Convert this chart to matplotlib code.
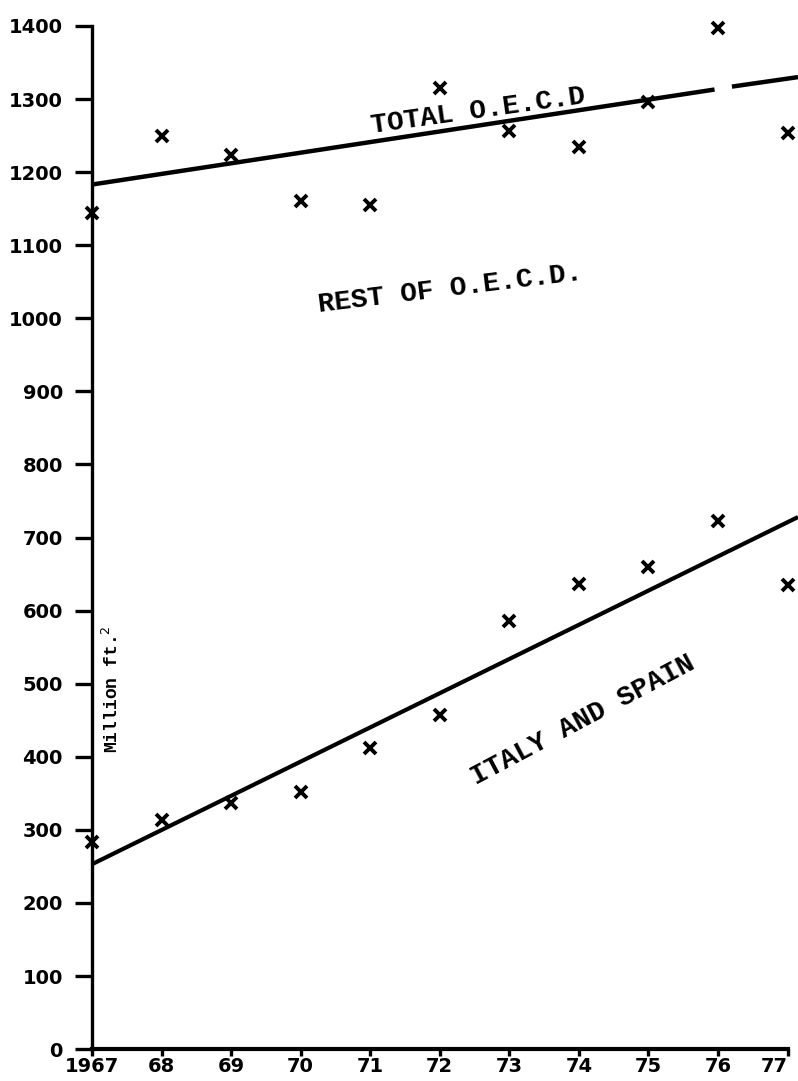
import matplotlib.pyplot as plt
import numpy as np

years = [1967, 1968, 1969, 1970, 1971, 1972, 1973, 1974, 1975, 1976, 1977]
total_oecd = [1144, 1249, 1223, 1160, 1155, 1315, 1256, 1235, 1296, 1397, 1254]
italy_spain = [284, 314, 337, 352, 412, 457, 586, 637, 660, 723, 635]

# fitted trend lines as drawn (total line has a small break near 1976)
total_trend_x = [1967, 1975.95, np.nan, 1976.2, 1977.15]
total_trend_y = [1183, 1313, np.nan, 1317, 1330]
italy_trend_x = [1967, 1977.15]
italy_trend_y = [253, 728]

x_labels = ["1967", "68", "69", "70", "71", "72", "73", "74", "75", "76", "77"]
y_ticks = list(range(0, 1401, 100))

fig = plt.figure(figsize=(7.98, 10.81), dpi=100)
ax = fig.add_axes([0.1153, 0.0295, 0.8847, 0.9465])

ax.plot(total_trend_x, total_trend_y, color="black", lw=3.2, solid_capstyle="butt")
ax.plot(italy_trend_x, italy_trend_y, color="black", lw=3.0, solid_capstyle="butt")
ax.plot(years, total_oecd, ls="none", marker="x", ms=9, mew=2.8, color="black", clip_on=False)
ax.plot(years, italy_spain, ls="none", marker="x", ms=9, mew=2.8, color="black", clip_on=False)

ax.set_xlim(1967, 1977.15)
ax.set_ylim(0, 1400)

for s in ["top", "right"]:
    ax.spines[s].set_visible(False)
ax.spines["left"].set_linewidth(2.4)
ax.spines["bottom"].set_linewidth(3.0)
ax.spines["bottom"].set_bounds(1967, 1977)

ax.set_xticks(years)
ax.set_xticklabels(x_labels)
ax.set_yticks(y_ticks)
ax.tick_params(axis="y", length=12, width=2.4, pad=9, direction="out")
ax.tick_params(axis="x", length=5, width=2.4, pad=1, direction="out")
for lab in ax.get_xticklabels() + ax.get_yticklabels():
    lab.set_fontsize(14)
    lab.set_fontweight("bold")
    lab.set_family("DejaVu Sans")
# last year label sits at the right edge, keep it inside the figure
ax.get_xticklabels()[-1].set_horizontalalignment("right")

mono = dict(family="Liberation Mono", fontweight="bold", color="black")
ax.text(1972.55, 1283, "TOTAL O.E.C.D", rotation=8, ha="center", va="center", fontsize=20, **mono)
ax.text(1972.15, 1040, "REST OF O.E.C.D.", rotation=7, ha="center", va="center", fontsize=20, **mono)
ax.text(1974.05, 450, "ITALY AND SPAIN", rotation=28, ha="center", va="center", fontsize=20, **mono)
ax.text(1967.29, 493, "Million ft.$^2$", rotation=90, ha="center", va="center", fontsize=13, **mono)

fig.savefig("out.png", dpi=100)
